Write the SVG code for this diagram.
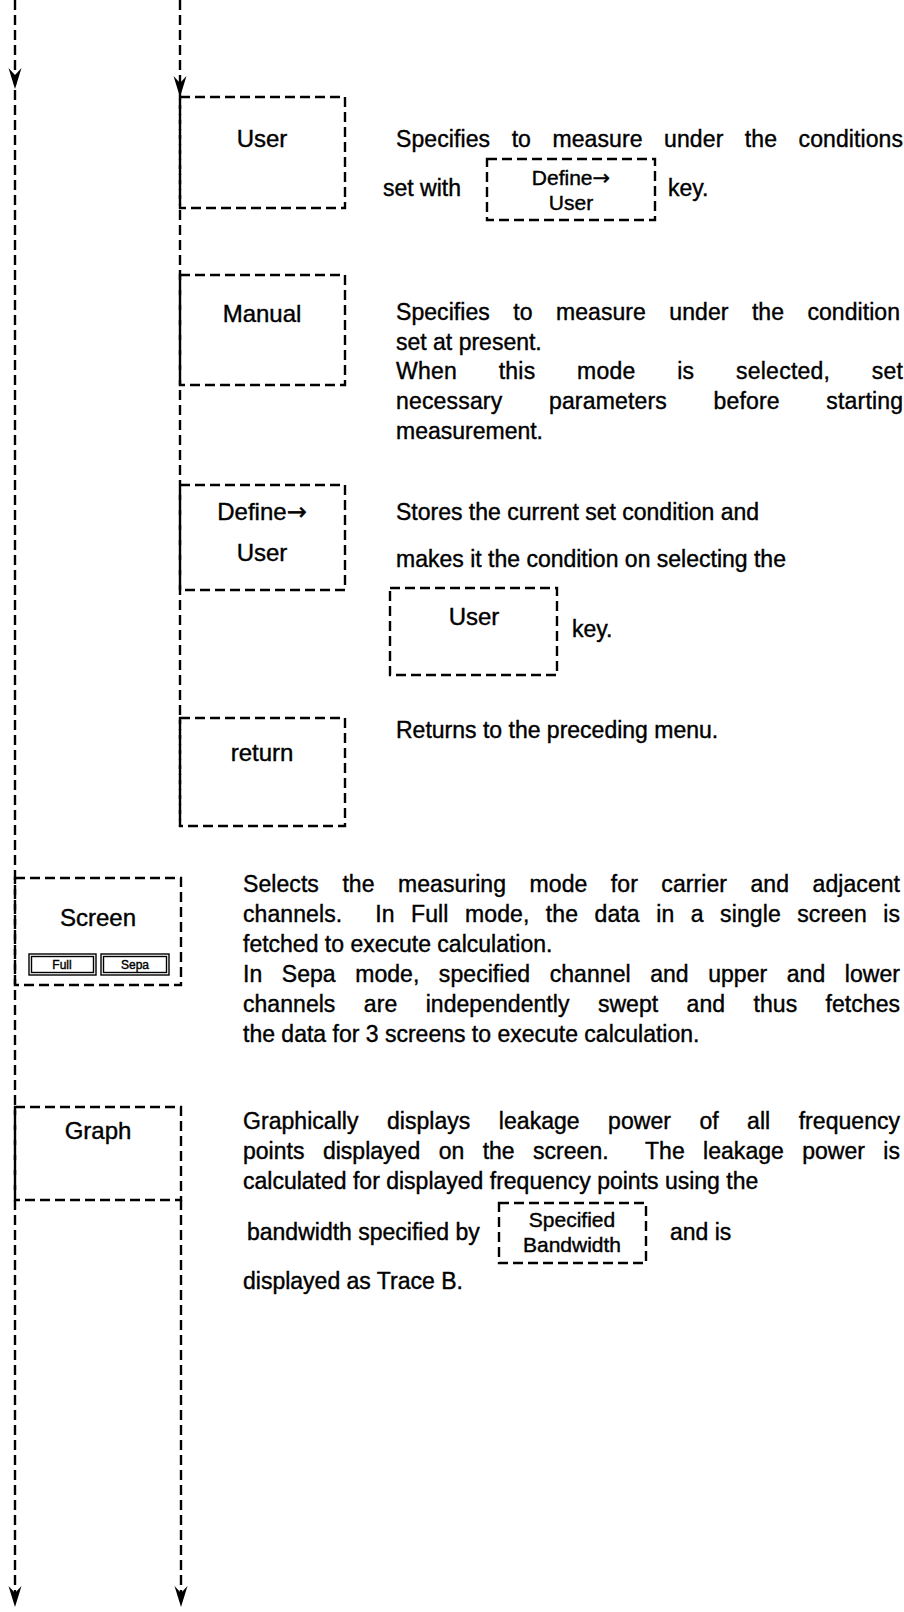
<svg xmlns="http://www.w3.org/2000/svg" width="904" height="1612" viewBox="0 0 904 1612">
  <style>
    .dash { fill: none; stroke: #000; stroke-width: 2.4; stroke-dasharray: 10 5; }
    text { font-family: "Liberation Sans", Arial, Helvetica, sans-serif; fill: #000; stroke: #000; stroke-width: 0.4; }
    .t { font-size: 23px; }
    .lbl { font-size: 24px; text-anchor: middle; }
    .key { font-size: 21px; text-anchor: middle; }
    .arr { font-family: "DejaVu Sans", sans-serif; }
    .btn { fill: none; stroke: #000; stroke-width: 1.4; }
    .btxt { font-size: 12px; text-anchor: middle; stroke-width: 0.4; }
  </style>
  <defs>
    <path id="ah" d="M0,0 L-6.5,-21 L0,-14 L6.5,-21 Z" fill="#000"/>
  </defs>
  <rect width="904" height="1612" fill="#fff"/>

  <!-- flow lines -->
  <g id="connectors">
    <line class="dash" x1="15" y1="0" x2="15" y2="1600"/>
    <use href="#ah" x="15" y="89"/>
    <use href="#ah" x="15" y="1607"/>
    <line class="dash" x1="180" y1="0" x2="180" y2="826"/>
    <use href="#ah" x="180" y="97"/>
    <line class="dash" x1="181" y1="1200" x2="181" y2="1600"/>
    <use href="#ah" x="181" y="1607"/>
  </g>

  <!-- User -->
  <g id="user">
    <rect class="dash" x="180" y="97" width="165" height="111"/>
    <text class="lbl" x="262" y="147">User</text>
    <text class="t" x="396" y="147" word-spacing="15" textLength="507" lengthAdjust="spacing">Specifies to measure under the conditions</text>
    <text class="t" x="383" y="196">set with</text>
    <rect class="dash" x="487" y="159" width="168" height="61"/>
    <text class="key" x="571" y="185">Define<tspan class="arr">→</tspan></text>
    <text class="key" x="571" y="210">User</text>
    <text class="t" x="668" y="196">key.</text>
  </g>

  <!-- Manual -->
  <g id="manual">
    <rect class="dash" x="180" y="275" width="165" height="110"/>
    <text class="lbl" x="262" y="322">Manual</text>
    <text class="t" x="396" y="320" word-spacing="17" textLength="504" lengthAdjust="spacing">Specifies to measure under the condition</text>
    <text class="t" x="396" y="350">set at present.</text>
    <text class="t" x="396" y="379" word-spacing="35" textLength="507" lengthAdjust="spacing">When this mode is selected, set</text>
    <text class="t" x="396" y="409" word-spacing="40" textLength="507" lengthAdjust="spacing">necessary parameters before starting</text>
    <text class="t" x="396" y="439">measurement.</text>
  </g>

  <!-- Define→User -->
  <g id="define-user">
    <rect class="dash" x="180" y="485" width="165" height="105"/>
    <text class="lbl" x="262" y="520">Define<tspan class="arr">→</tspan></text>
    <text class="lbl" x="262" y="561">User</text>
    <text class="t" x="396" y="520">Stores the current set condition and</text>
    <text class="t" x="396" y="567">makes it the condition on selecting the</text>
    <rect class="dash" x="390" y="588" width="167" height="87"/>
    <text class="lbl" x="474" y="625">User</text>
    <text class="t" x="572" y="637">key.</text>
  </g>

  <!-- return -->
  <g id="return">
    <rect class="dash" x="180" y="718" width="165" height="108"/>
    <text class="lbl" x="262" y="761">return</text>
    <text class="t" x="396" y="738">Returns to the preceding menu.</text>
  </g>

  <!-- Screen -->
  <g id="screen">
    <rect class="dash" x="15" y="878" width="166" height="107"/>
    <text class="lbl" x="98" y="926">Screen</text>
    <rect class="btn" x="29" y="954" width="67" height="21"/>
    <rect class="btn" x="31.5" y="956.5" width="62" height="16"/>
    <text class="btxt" x="62" y="969">Full</text>
    <rect class="btn" x="101" y="954" width="68" height="21"/>
    <rect class="btn" x="103.5" y="956.5" width="63" height="16"/>
    <text class="btxt" x="135" y="969">Sepa</text>
    <text class="t" x="243" y="892" word-spacing="17" textLength="657" lengthAdjust="spacing">Selects the measuring mode for carrier and adjacent</text>
    <text class="t" x="243" y="922" xml:space="preserve" word-spacing="10" textLength="657" lengthAdjust="spacing">channels.  In Full mode, the data in a single screen is</text>
    <text class="t" x="243" y="952">fetched to execute calculation.</text>
    <text class="t" x="243" y="982" word-spacing="13" textLength="657" lengthAdjust="spacing">In Sepa mode, specified channel and upper and lower</text>
    <text class="t" x="243" y="1012" word-spacing="22" textLength="657" lengthAdjust="spacing">channels are independently swept and thus fetches</text>
    <text class="t" x="243" y="1042">the data for 3 screens to execute calculation.</text>
  </g>

  <!-- Graph -->
  <g id="graph">
    <rect class="dash" x="15" y="1107" width="166" height="93"/>
    <text class="lbl" x="98" y="1139">Graph</text>
    <text class="t" x="243" y="1129" word-spacing="22" textLength="657" lengthAdjust="spacing">Graphically displays leakage power of all frequency</text>
    <text class="t" x="243" y="1159" xml:space="preserve" word-spacing="12" textLength="657" lengthAdjust="spacing">points displayed on the screen.  The leakage power is</text>
    <text class="t" x="243" y="1189">calculated for displayed frequency points using the</text>
    <text class="t" x="247" y="1240">bandwidth specified by</text>
    <rect class="dash" x="499" y="1203" width="147" height="60"/>
    <text class="key" x="572" y="1227">Specified</text>
    <text class="key" x="572" y="1252">Bandwidth</text>
    <text class="t" x="670" y="1240">and is</text>
    <text class="t" x="243" y="1289">displayed as Trace B.</text>
  </g>
</svg>
